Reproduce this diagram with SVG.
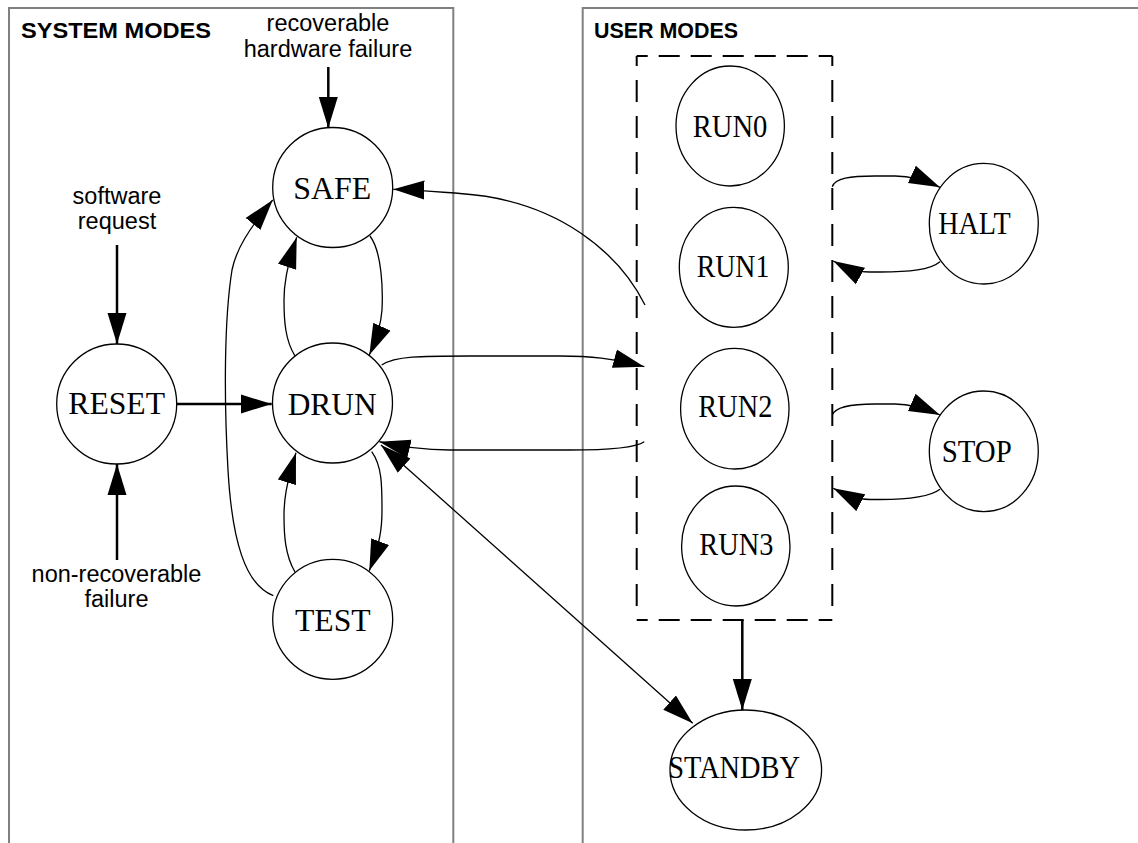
<svg xmlns="http://www.w3.org/2000/svg" width="1138" height="843" viewBox="0 0 1138 843">
<style>
.panel{fill:none;stroke:#808080;stroke-width:2}
.title{font-family:"Liberation Sans",Arial,sans-serif;font-weight:bold;font-size:22px;fill:#000}
.lbl{font-family:"Liberation Sans",Arial,sans-serif;font-size:23.5px;fill:#000;text-anchor:middle}
.nd{fill:#fff;stroke:#000;stroke-width:1.3}
.nt{font-family:"Liberation Serif","Times New Roman",serif;font-size:32px;fill:#000}
.c{fill:none;stroke:#000;stroke-width:1.3;marker-end:url(#ah)}
.tk{fill:none;stroke:#000;stroke-width:2.5;marker-end:url(#ah)}
.dsh{fill:none;stroke:#000;stroke-width:2}
</style>
<defs>
<marker id="ah" markerUnits="userSpaceOnUse" markerWidth="31" markerHeight="20" viewBox="0 0 31 20" refX="31" refY="10" orient="auto"><path d="M0,0.5 L31,10 L0,19.5 z" fill="#000"/></marker>
<marker id="ahs" markerUnits="userSpaceOnUse" markerWidth="31" markerHeight="20" viewBox="0 0 31 20" refX="31" refY="10" orient="auto-start-reverse"><path d="M0,0.5 L31,10 L0,19.5 z" fill="#000"/></marker>
</defs>
<rect width="1138" height="843" fill="#fff"/>
<g id="panels">
<path class="panel" d="M9,850 V8 H453.3 V850"/>
<path class="panel" d="M582.7,850 V8 H1145"/>
<text class="title" x="21" y="37.5" textLength="190" lengthAdjust="spacingAndGlyphs">SYSTEM MODES</text>
<text class="title" x="594" y="38" textLength="144" lengthAdjust="spacingAndGlyphs">USER MODES</text>
</g>
<g id="labels">
<text class="lbl" x="328" y="31">recoverable</text>
<text class="lbl" x="328" y="57">hardware failure</text>
<text class="lbl" x="117" y="204">software</text>
<text class="lbl" x="117" y="229">request</text>
<text class="lbl" x="116.5" y="582">non-recoverable</text>
<text class="lbl" x="116.5" y="607">failure</text>
</g>
<g id="user-group">
<path class="dsh" d="M636.7,56 H832.3" stroke-dasharray="21 11" stroke-dashoffset="10"/>
<path class="dsh" d="M636.7,620 H832.3" stroke-dasharray="21 11" stroke-dashoffset="10"/>
<path class="dsh" d="M636.7,56 V620" stroke-dasharray="22 14" stroke-dashoffset="12"/>
<path class="dsh" d="M832.3,56 V620" stroke-dasharray="22 14" stroke-dashoffset="12"/>
</g>
<g id="connectors">
<path class="tk" d="M328.3,67 V128"/>
<path class="tk" d="M117,245 V344"/>
<path class="tk" d="M117,560 V464"/>
<path class="tk" d="M176.7,404 H271.7"/>
<path class="tk" d="M742.3,620 V710"/>
<path class="c" d="M370,236 C382,252 383,290 382,310 C381,325 376,340 369.3,355"/>
<path class="c" d="M295,356 C285,340 284,320 284,300 C284,285 286,270 296.7,237.3"/>
<path class="c" d="M295,572 C285,555 284,535 284,515 C284,500 286,485 296,452.7"/>
<path class="c" d="M371.7,451.7 C382,466 382,485 382,510 C382,530 380,542 369.3,570.7"/>
<path class="c" d="M273.3,595.7 C245,585 232,540 228,470 C224,400 224,320 232,270 C236,250 248,230 272.7,200"/>
<path class="c" d="M645,305 C620,255 560,200 460,193.5 C440,192 420,190 393.3,189.3"/>
<path class="c" d="M381.7,365 C395,356 420,356 470,356 L560,356 C590,356 612,358 644.3,366.7"/>
<path class="c" d="M644.3,441.7 C635,448 610,450 570,450 L450,450 C430,450 405,448 379.3,441.7"/>
<path class="c" d="M381,445 L692.7,723.3" style="marker-start:url(#ahs)"/>
<path class="c" d="M832.3,186.7 C835,178 850,176 875,176 L895,176 C910,176 922,179 940,187.3"/>
<path class="c" d="M940,261.7 C930,270 910,272 880,272 L870,272 C855,272 846,268 833.3,261"/>
<path class="c" d="M832.3,415 C835,407 850,404 875,404 L895,404 C910,404 922,407 940,415"/>
<path class="c" d="M940,489.3 C930,497 910,499.5 880,499.5 L870,499.5 C855,499.5 846,495 833.3,488.3"/>
</g>
<g id="node-safe"><circle class="nd" cx="332.7" cy="187.5" r="60"/><text class="nt" x="293.3" y="199" textLength="78" lengthAdjust="spacingAndGlyphs">SAFE</text></g>
<g id="node-drun"><circle class="nd" cx="332.5" cy="403" r="60"/><text class="nt" x="287.7" y="415" textLength="89" lengthAdjust="spacingAndGlyphs">DRUN</text></g>
<g id="node-test"><circle class="nd" cx="332.7" cy="619.3" r="60"/><text class="nt" x="295" y="630.7" textLength="75.7" lengthAdjust="spacingAndGlyphs">TEST</text></g>
<g id="node-reset"><circle class="nd" cx="116.7" cy="404" r="60"/><text class="nt" x="68.3" y="414.3" textLength="96.7" lengthAdjust="spacingAndGlyphs">RESET</text></g>
<g id="node-run0"><ellipse class="nd" cx="730.2" cy="126" rx="54.2" ry="60"/><text class="nt" x="692.7" y="136.7" textLength="74.7" lengthAdjust="spacingAndGlyphs">RUN0</text></g>
<g id="node-run1"><ellipse class="nd" cx="733.8" cy="267.3" rx="54.5" ry="60"/><text class="nt" x="696.7" y="276.7" textLength="72.7" lengthAdjust="spacingAndGlyphs">RUN1</text></g>
<g id="node-run2"><ellipse class="nd" cx="734.8" cy="408.7" rx="54.2" ry="60.3"/><text class="nt" x="698.3" y="417.3" textLength="74" lengthAdjust="spacingAndGlyphs">RUN2</text></g>
<g id="node-run3"><ellipse class="nd" cx="735.8" cy="546" rx="54.2" ry="60"/><text class="nt" x="699.3" y="555" textLength="74" lengthAdjust="spacingAndGlyphs">RUN3</text></g>
<g id="node-halt"><ellipse class="nd" cx="983.8" cy="223.7" rx="54.5" ry="60.3"/><text class="nt" x="938.3" y="234.3" textLength="72.3" lengthAdjust="spacingAndGlyphs">HALT</text></g>
<g id="node-stop"><ellipse class="nd" cx="983.8" cy="451.3" rx="54.5" ry="60.3"/><text class="nt" x="941.7" y="462.3" textLength="70" lengthAdjust="spacingAndGlyphs">STOP</text></g>
<g id="node-standby"><ellipse class="nd" cx="745.8" cy="770" rx="75.8" ry="60"/><text class="nt" x="668.3" y="778.3" textLength="131.7" lengthAdjust="spacingAndGlyphs">STANDBY</text></g>
</svg>
